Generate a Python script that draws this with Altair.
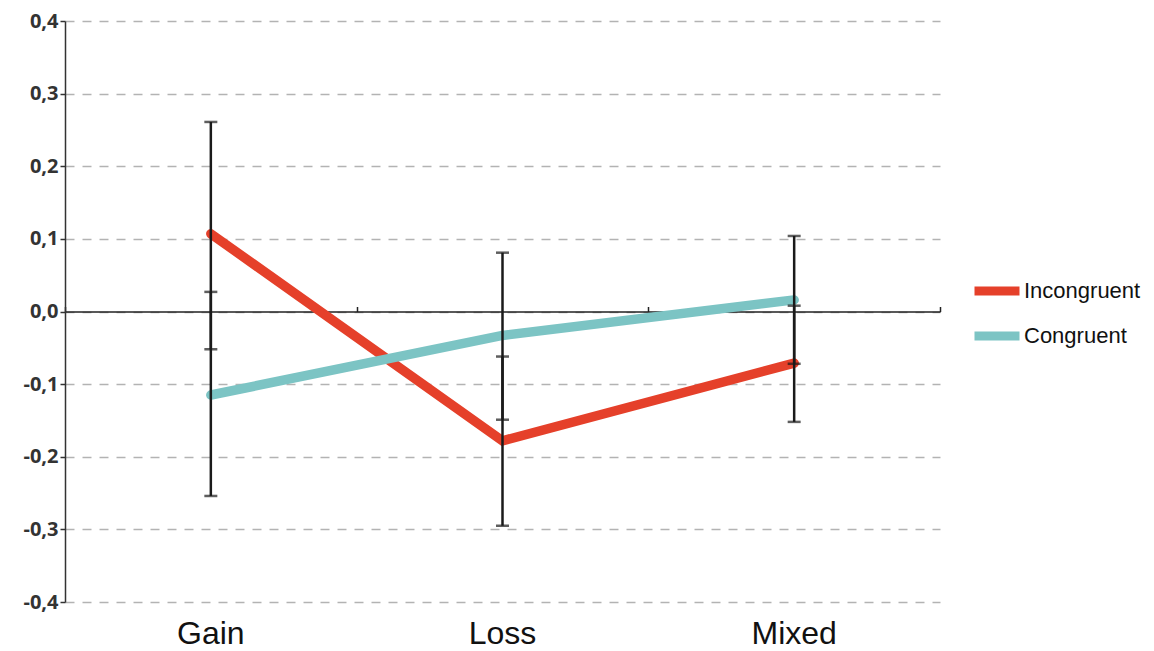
import altair as alt
import pandas as pd

categories = ["Gain", "Loss", "Mixed"]
series = ["Incongruent", "Congruent"]
incongruent_mean = [0.107, -0.178, -0.071]
incongruent_low = [-0.052, -0.295, -0.152]
incongruent_high = [0.261, -0.062, 0.008]
congruent_mean = [-0.115, -0.033, 0.016]
congruent_low = [-0.254, -0.149, -0.072]
congruent_high = [0.027, 0.081, 0.104]
y_ticks = [-0.4, -0.3, -0.2, -0.1, 0.0, 0.1, 0.2, 0.3, 0.4]
colors = ["#e5402a", "#7cc4c4"]

rows = []
for i, c in enumerate(categories):
    rows.append({"cat": c, "series": "Incongruent", "mean": incongruent_mean[i],
                 "low": incongruent_low[i], "high": incongruent_high[i]})
for i, c in enumerate(categories):
    rows.append({"cat": c, "series": "Congruent", "mean": congruent_mean[i],
                 "low": congruent_low[i], "high": congruent_high[i]})
df = pd.DataFrame(rows)

W, H = 875, 581

xscale = alt.Scale(domain=categories, paddingInner=0, paddingOuter=0)
yscale = alt.Scale(domain=[-0.4, 0.4], nice=False)

label_expr = "replace(replace(format(datum.value, '.1f'), '.', ','), '\u2212', '-')"

y_axis = alt.Axis(values=y_ticks, labelExpr=label_expr, title=None)

base = alt.Chart(df)

lines = base.mark_line(strokeWidth=9.5, strokeCap="round", strokeJoin="miter").encode(
    x=alt.X("cat:N", scale=xscale, sort=categories,
            axis=alt.Axis(title=None, domain=False, ticks=False, grid=False,
                          labelAngle=0, labelFont="Liberation Sans",
                          labelFontSize=32, labelColor="#111111",
                          labelPadding=16)),
    y=alt.Y("mean:Q", scale=yscale, axis=y_axis),
    color=alt.Color("series:N", scale=alt.Scale(domain=series, range=colors),
                    sort=series,
                    legend=alt.Legend(title=None, orient="none", legendX=905,
                                      legendY=243, symbolType="stroke",
                                      symbolSize=2025, symbolStrokeWidth=9,
                                      labelFont="Liberation Sans",
                                      labelFontSize=22, labelColor="#111111",
                                      labelOffset=0, rowPadding=-10)),
    detail="series:N",
)

zero_axis = alt.Axis(title=None, labels=False, grid=False, offset=-H / 2,
                     tickBand="extent", domainColor="#222222", domainWidth=1.5,
                     tickColor="#222222", tickWidth=1.5, tickSize=5)

err = base.mark_rule(color="#1a1a1a", strokeWidth=2.5).encode(
    x=alt.X("cat:N", scale=xscale, sort=categories, axis=zero_axis),
    y=alt.Y("low:Q", scale=yscale, axis=y_axis),
    y2="high:Q",
)

cap_low = base.mark_tick(color="#1a1a1a", thickness=2.5, size=13).encode(
    x=alt.X("cat:N", scale=xscale, sort=categories, axis=None),
    y=alt.Y("low:Q", scale=yscale, axis=y_axis),
)
cap_high = base.mark_tick(color="#1a1a1a", thickness=2.5, size=13).encode(
    x=alt.X("cat:N", scale=xscale, sort=categories, axis=None),
    y=alt.Y("high:Q", scale=yscale, axis=y_axis),
)

chart = alt.layer(lines, err, cap_low, cap_high).resolve_axis(
    x="independent"
).properties(
    width=W, height=H,
    background="white",
    autosize=alt.AutoSizeParams(type="none"),
    padding={"left": 57, "top": 13, "right": 206, "bottom": 48},
).configure_view(stroke=None).configure_axisY(
    grid=True, gridDash=[9, 8], gridColor="#b3b3b3", gridWidth=1.5,
    domainColor="#333333", domainWidth=1.5, tickColor="#333333",
    tickWidth=1.5, tickSize=5, labelPadding=2,
    labelFont="Open Sans", labelFontSize=20, labelFontWeight="bold",
    labelColor="#333333",
)

chart.save("out.html", embed_options={"renderer": "svg", "actions": False})
